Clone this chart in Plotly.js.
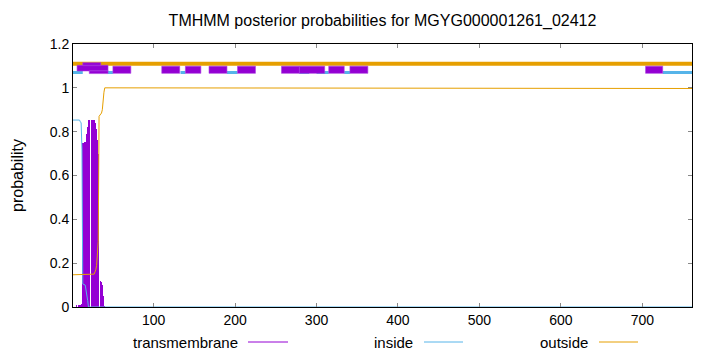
<!DOCTYPE html>
<html>
<head>
<meta charset="utf-8">
<script src="https://cdn.plot.ly/plotly-3.0.1.min.js"></script>
<style>html,body{margin:0;padding:0;background:#fff;}#chart{width:720px;height:352px;}</style>
</head>
<body>
<div id="chart"></div>
<script>
// ---- data ----
var seqLength = 761;

// transmembrane posterior (impulses), residues 1..45
var tmResidues = [];
for (var i = 1; i <= 45; i++) tmResidues.push(i);
var tmProb = [0, 0, 0, 0, 0.01, 0.01, 0.01, 0.01, 0.01, 0.01,
              0.012, 0.13, 0.748, 0.75, 0.752, 0.755, 0.77, 0.79, 0.82, 0.853,
              0.853, 0.853, 0.853, 0.853, 0.853, 0.853, 0.853, 0.853, 0.84, 0.81,
              0.76, 0.70, 0.13, 0.125, 0.12, 0.115, 0.10, 0.05, 0.02, 0.005,
              0, 0, 0, 0, 0];

// inside posterior (line breakpoints)
var insideRes  = [1, 9, 10, 11, 12, 13, 16, 17, 18, 19, 20, 761];
var insideProb = [0.853, 0.853, 0.845, 0.84, 0.72, 0.105, 0.10, 0.08, 0.06, 0.03, 0, 0];

// outside posterior (line breakpoints)
var outsideRes  = [1, 26, 27, 28, 29, 30, 31, 32, 33, 34, 35, 36, 37, 38, 39, 40, 750, 761];
var outsideProb = [0.147, 0.147, 0.15, 0.16, 0.17, 0.19, 0.24, 0.30, 0.87, 0.875, 0.88, 0.885, 0.90, 0.95, 0.98, 1.0, 1.0, 0.997];

// top strip: predicted segments
var tmBoxStart = [6, 50, 110, 139, 168, 203, 257, 279, 315, 341, 704];
var tmBoxEnd   = [44, 72, 132, 158, 190, 225, 279, 310, 334, 363, 725];
var insideSegStart = [1, 44, 133, 190, 279, 300, 334, 725];
var insideSegEnd   = [13, 50, 139, 203, 291, 315, 341, 761];
var outsideSegStart = [1];
var outsideSegEnd   = [761];

// ---- build traces ----
var C_TM = '#9400D3', C_IN = '#56B4E9', C_OUT = '#E69F00';
var traces = [];

traces.push({type: 'bar', x: tmResidues, y: tmProb, width: 0.9,
  marker: {color: C_TM, line: {width: 0}}, hoverinfo: 'skip', showlegend: false});
traces.push({type: 'scatter', mode: 'lines', x: insideRes, y: insideProb,
  line: {color: C_IN, width: 1}, hoverinfo: 'skip', showlegend: false});
traces.push({type: 'scatter', mode: 'lines', x: outsideRes, y: outsideProb,
  line: {color: C_OUT, width: 1}, hoverinfo: 'skip', showlegend: false});

function segLines(starts, ends, yv) {
  var xs = [], ys = [];
  for (var k = 0; k < starts.length; k++) {
    xs.push(starts[k], ends[k], null); ys.push(yv, yv, null);
  }
  return {x: xs, y: ys};
}
var o = segLines(outsideSegStart, outsideSegEnd, 1.11);
traces.push({type: 'scatter', mode: 'lines', x: o.x, y: o.y,
  line: {color: C_OUT, width: 4}, hoverinfo: 'skip', showlegend: false});
var ins = segLines(insideSegStart, insideSegEnd, 1.07);
traces.push({type: 'scatter', mode: 'lines', x: ins.x, y: ins.y,
  line: {color: C_IN, width: 3}, hoverinfo: 'skip', showlegend: false});

function boxes(starts, ends, y0s, y1s) {
  var xs = [], ys = [];
  for (var k = 0; k < starts.length; k++) {
    xs.push(starts[k], ends[k], ends[k], starts[k], starts[k], null);
    ys.push(y0s[k], y0s[k], y1s[k], y1s[k], y0s[k], null);
  }
  return {x: xs, y: ys};
}
var restS = tmBoxStart.slice(1), restE = tmBoxEnd.slice(1);
var b = boxes(restS, restE, restS.map(function(){return 1.066;}), restS.map(function(){return 1.099;}));
traces.push({type: 'scatter', mode: 'lines', x: b.x, y: b.y, fill: 'toself',
  fillcolor: C_TM, line: {color: 'rgba(170,60,225,0.6)', width: 1},
  hoverinfo: 'skip', showlegend: false});
// first (composite) box
var b1 = boxes([tmBoxStart[0], 13, 21], [tmBoxEnd[0], 35, tmBoxEnd[0]],
               [1.077, 1.101, 1.065], [1.103, 1.115, 1.079]);
traces.push({type: 'scatter', mode: 'lines', x: b1.x, y: b1.y, fill: 'toself',
  fillcolor: C_TM, line: {color: 'rgba(170,60,225,0.6)', width: 1},
  hoverinfo: 'skip', showlegend: false});

// ---- legend drawn gnuplot-style (text then sample) ----
var FONT = 'Liberation Sans, Arial, sans-serif';
var plotL = 73, plotR = 692, plotT = 44, plotB = 307;
function px2paperX(p) { return (p - plotL) / (plotR - plotL); }
function px2paperY(p) { return (plotB - p) / (plotB - plotT); }
var legendItems = [
  {name: 'transmembrane', textEnd: 240, l0: 248, l1: 288, color: C_TM},
  {name: 'inside', textEnd: 415, l0: 424, l1: 463, color: C_IN},
  {name: 'outside', textEnd: 590, l0: 599, l1: 638, color: C_OUT}
];
var legY = 342;
var annotations = [], shapes = [];
legendItems.forEach(function (it) {
  annotations.push({xref: 'paper', yref: 'paper', x: px2paperX(it.textEnd), y: px2paperY(legY),
    text: it.name, showarrow: false, xanchor: 'right', yanchor: 'middle',
    font: {family: FONT, size: 15, color: '#000'}});
  shapes.push({type: 'line', xref: 'paper', yref: 'paper',
    x0: px2paperX(it.l0), x1: px2paperX(it.l1), y0: px2paperY(legY), y1: px2paperY(legY),
    line: {color: it.color, width: 1}});
});

var layout = {
  width: 720, height: 352,
  margin: {l: plotL, r: 720 - plotR, t: plotT, b: 352 - plotB},
  paper_bgcolor: '#fff', plot_bgcolor: '#fff',
  font: {family: FONT, size: 14, color: '#000'},
  title: {text: 'TMHMM posterior probabilities for MGYG000001261_02412',
    font: {family: FONT, size: 16, color: '#000'},
    xref: 'paper', x: 0.5, xanchor: 'center', yref: 'container', y: 1 - 20 / 352, yanchor: 'middle'},
  bargap: 0,
  xaxis: {range: [1, seqLength], dtick: 100, tick0: 0, ticks: 'inside', ticklen: 4,
    tickcolor: '#888', showline: true, linecolor: '#000', linewidth: 1, mirror: 'ticks',
    showgrid: false, zeroline: false, tickfont: {family: FONT, size: 14}},
  yaxis: {range: [0, 1.2], dtick: 0.2, tick0: 0, ticks: 'inside', ticklen: 4,
    tickcolor: '#888', showline: true, linecolor: '#000', linewidth: 1, mirror: 'ticks',
    showgrid: false, zeroline: false, tickfont: {family: FONT, size: 14},
    title: {text: 'probability', font: {family: FONT, size: 16}, standoff: 22}},
  showlegend: false,
  annotations: annotations,
  shapes: shapes
};

Plotly.newPlot('chart', traces, layout, {staticPlot: true, displayModeBar: false});
</script>
</body>
</html>
